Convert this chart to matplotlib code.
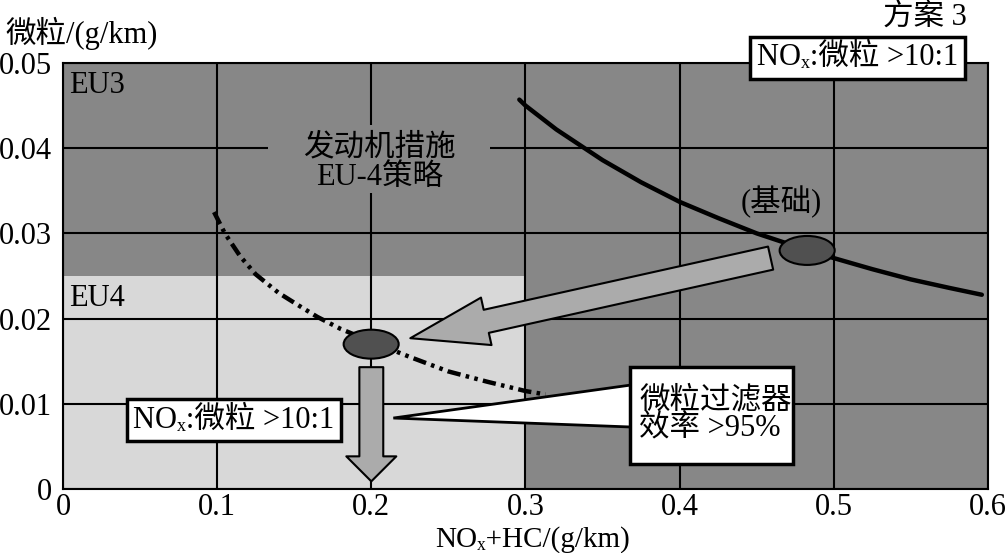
import matplotlib
matplotlib.use('Agg')
import matplotlib.pyplot as plt
from matplotlib.patches import Rectangle, Ellipse, Polygon

plt.rcParams['font.family'] = ['Liberation Serif', 'DejaVu Serif', 'Noto Sans CJK SC']
plt.rcParams['mathtext.fontset'] = 'stix'

# data
base_x = [0.296, 0.30, 0.32, 0.33, 0.35, 0.375, 0.40, 0.425, 0.45, 0.475, 0.50, 0.525, 0.55, 0.575, 0.596]
base_y = [0.0457, 0.0450, 0.0422, 0.0410, 0.0386, 0.0360, 0.0337, 0.0318, 0.0300, 0.0285, 0.0271, 0.0258, 0.0246, 0.0236, 0.0228]
eu4_x = [0.098, 0.105, 0.115, 0.125, 0.14, 0.155, 0.165, 0.18, 0.20, 0.225, 0.25, 0.275, 0.30, 0.313]
eu4_y = [0.0325, 0.0300, 0.0273, 0.0252, 0.0230, 0.0213, 0.0202, 0.0188, 0.0173, 0.0155, 0.0138, 0.0126, 0.0115, 0.0111]
base_pt = (0.4827, 0.0280)
eu4_pt = (0.1999, 0.0170)
eu4_limit = (0.3, 0.025)   # EU4 area: NOx+HC < 0.3, PM < 0.025

xticks = [0, 0.1, 0.2, 0.3, 0.4, 0.5, 0.6]
xlabels = ['0', '0.1', '0.2', '0.3', '0.4', '0.5', '0.6']
yticks = [0, 0.01, 0.02, 0.03, 0.04, 0.05]
ylabels = ['0', '0.01', '0.02', '0.03', '0.04', '0.05']

dark = '#878787'
light = '#d8d8d8'
arrow_c = '#ababab'
fs = 22

fig = plt.figure(figsize=(10.06, 5.53), dpi=100)
ax = fig.add_axes([0.0626, 0.1157, 0.9195, 0.7704])
ax.set_facecolor(dark)
ax.set_xlim(0, 0.6)
ax.set_ylim(0, 0.05)
ax.set_xticks(xticks, xlabels, fontsize=fs)
ax.set_yticks(yticks, ylabels, fontsize=fs)
ax.tick_params(length=0)
ax.tick_params(axis='x', pad=3)
ax.tick_params(axis='y', pad=8)
ax.set_axisbelow(True)
ax.grid(True, color='black', lw=1.5)
for s in ax.spines.values():
    s.set_linewidth(1.5)

ax.add_patch(Rectangle((0, 0), eu4_limit[0], eu4_limit[1], fc=light, ec='none', zorder=0.1))

ax.plot(base_x, base_y, color='black', lw=3.2, solid_capstyle='round', zorder=2)
ax.plot(eu4_x, eu4_y, color='black', lw=3.2, linestyle=(0, (3, 1.2, 0.8, 1.2, 0.8, 1.2)), zorder=2)

# arrows
ax.annotate('', xy=(0.2253, 0.0177), xytext=(0.459, 0.0271),
            arrowprops=dict(arrowstyle='simple,head_length=2.8,head_width=1.75,tail_width=0.85',
                            mutation_scale=20, fc=arrow_c, ec='black', lw=1.5, shrinkA=0, shrinkB=0),
            zorder=3)
ax.annotate('', xy=(0.2, 0.0009), xytext=(0.2, 0.0143),
            arrowprops=dict(arrowstyle='simple,head_length=0.9,head_width=1.8,tail_width=0.86',
                            mutation_scale=20, fc=arrow_c, ec='black', lw=1.5, shrinkA=0, shrinkB=0),
            zorder=3)

# operating points
for c in (base_pt, eu4_pt):
    ax.add_patch(Ellipse(c, 0.0357, 0.0034, fc='#505050', ec='black', lw=1.5, zorder=4))

# labels inside the plot
ax.text(0.004, 0.0474, 'EU3', fontsize=fs, ha='left', va='center')
ax.text(0.004, 0.0224, 'EU4', fontsize=fs, ha='left', va='center')
ax.add_patch(Rectangle((0.1331, 0.03474), 0.1442, 0.00798, fc=dark, ec='none', zorder=1.5))
ax.text(0.2052, 0.0383, '发动机措施\nEU-4策略', fontsize=fs, ha='center', va='center',
        linespacing=1.0, zorder=2)
ax.text(0.4662, 0.0337, '(基础)', fontsize=fs, ha='center', va='center')

ax.text(0.111, 0.0081, 'NOₓ:微粒 >10:1', fontsize=fs, ha='center', va='center', zorder=6,
        bbox=dict(boxstyle='square,pad=0.22', fc='white', ec='black', lw=2.5))
ax.text(0.859, 1.012, 'NOₓ:微粒 >10:1', fontsize=fs, ha='center', va='center', zorder=6,
        transform=ax.transAxes, clip_on=False,
        bbox=dict(boxstyle='square,pad=0.22', fc='white', ec='black', lw=2.5))

# particulate filter callout
ax.add_patch(Polygon([(0.2143, 0.00833), (0.3682, 0.0122), (0.3682, 0.00728)],
                     closed=True, fc='white', ec='black', lw=2, zorder=5))
ax.add_patch(Rectangle((0.368, 0.0029), 0.1058, 0.01138, fc='white', ec='black', lw=2.5, zorder=5.5))
ax.text(0.3737, 0.0087, '微粒过滤器\n效率 >95%', fontsize=fs, ha='left', va='center',
        linespacing=1.0, zorder=6)

fig.text(5 / 1006, 1 - 33 / 553, '微粒/(g/km)', fontsize=fs, ha='left', va='center')
fig.text(967 / 1006, 1 - 17 / 553, '方案 3', fontsize=fs, ha='right', va='center')
fig.text(533 / 1006, 1 - 540 / 553, 'NOₓ+HC/(g/km)', fontsize=fs - 1, ha='center', va='center')

fig.savefig('out.png', dpi=100, facecolor='white')
